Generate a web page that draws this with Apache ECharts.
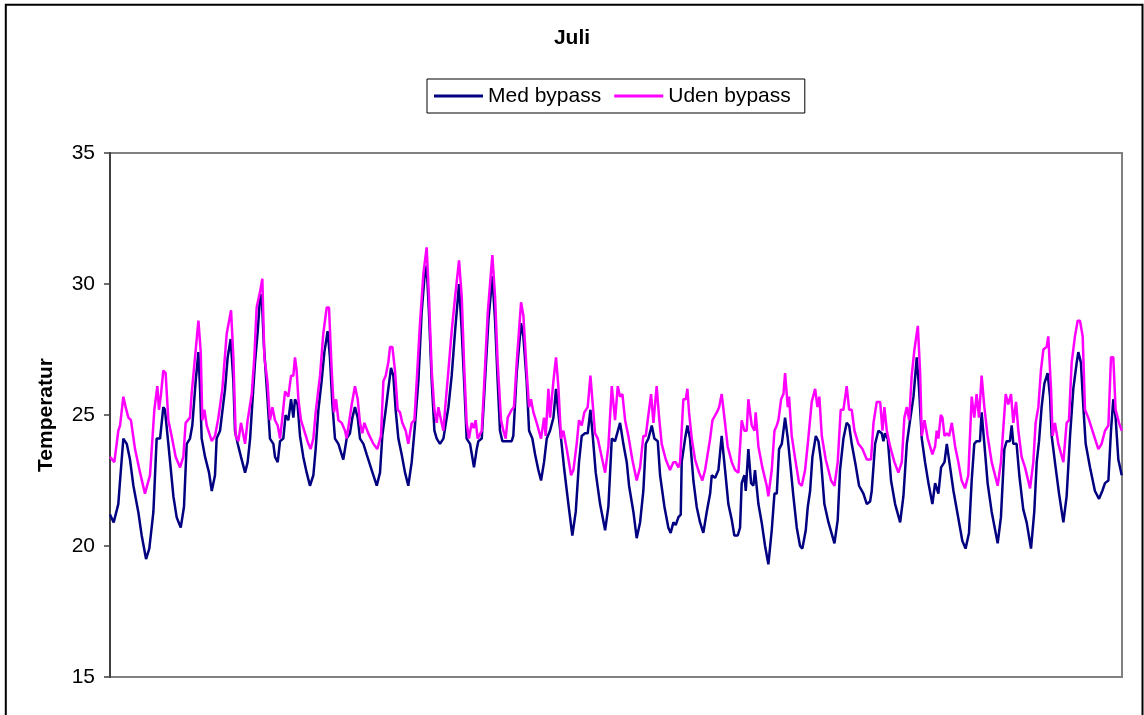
<!DOCTYPE html>
<html>
<head>
<meta charset="utf-8">
<script src="https://cdn.jsdelivr.net/npm/echarts@6/dist/echarts.min.js"></script>
<style>
html,body{margin:0;padding:0;background:#fff;}
#chart{width:1144px;height:715px;}
</style>
</head>
<body>
<div id="chart"></div>
<script>
// Hour of July (0..744) and temperature
var medHours = [0,2.7,6.1,7.4,9.8,12.3,14.7,17.2,20.8,23.3,26.5,28.9,31.9,34.3,36.8,39.2,40.4,42.9,46.6,49.0,52.0,54.4,56.4,58.8,60.5,63.0,65.0,66.2,67.4,69.9,72.8,74.8,77.2,78.4,80.9,84.6,86.5,88.7,90.7,91.9,93.9,96.3,99.3,101.2,103.0,104.2,106.6,108.6,110.3,111.5,113.2,115.7,117.6,120.1,
121.3,123.3,125.0,127.4,129.1,131.1,133.1,134.8,136.0,137.9,139.7,142.1,144.6,147.0,149.5,151.2,153.2,155.6,157.6,160.0,161.7,163.5,165.4,167.9,171.5,174.0,176.4,178.2,180.1,182.1,183.8,186.3,188.7,192.4,196.1,198.5,200.2,202.7,204.6,206.6,208.3,210.0,212.0,214.4,216.9,219.3,221.8,224.2,226.7,229.1,231.1,232.8,234.5,236.5,238.5,240.2,242.6,245.1,
248.8,251.2,253.7,256.6,258.6,260.5,262.2,264.7,267.6,269.6,270.8,273.3,275.7,278.2,281.1,283.1,285.0,286.7,288.5,291.6,295.3,296.5,299.0,302.2,303.9,306.3,308.1,310.5,312.5,314.9,316.9,319.1,321.1,323.5,326.0,327.9,329.6,331.6,334.0,337.0,339.9,342.4,344.8,346.8,349.2,351.2,353.2,354.9,357.1,360.3,364.0,366.4,368.9,
371.3,375.0,377.4,379.9,381.6,384.8,387.2,389.7,392.1,393.9,395.8,398.3,400.2,402.7,404.4,407.6,410.5,412.2,414.2,415.9,417.9,419.6,420.3,422.8,424.5,426.4,428.9,431.3,433.8,436.2,438.7,441.2,442.4,444.8,447.3,449.7,452.2,454.6,457.1,459.0,461.5,463.2,464.4,466.4,467.4,469.3,471.3,473.0,474.2,476.7,479.1,481.6,484.0,486.5,488.5,490.2,491.9,493.9,496.3,
498.3,500.0,502.4,504.9,507.3,509.0,511.5,513.0,514.7,516.4,518.9,520.8,522.8,525.2,528.2,532.6,535.0,536.7,539.2,541.6,543.4,545.3,547.8,550.7,553.9,556.4,558.8,560.0,562.5,564.9,567.4,568.6,569.8,571.8,574.2,577.2,580.9,583.3,585.8,588.2,590.7,593.1,594.8,596.8,599.2,601.7,604.6,606.6,607.8,609.0,611.0,613.5,615.2,617.1,620.1,622.5,
626.6,629.0,631.5,633.5,635.4,637.1,639.6,640.8,642.8,645.2,648.2,652.6,655.0,657.5,659.2,661.6,662.9,664.1,666.5,668.5,671.4,673.9,677.1,679.5,681.3,683.0,684.9,686.9,689.3,691.1,692.3,694.7,697.7,700.9,703.3,705.8,708.2,710.7,711.9,713.8,715.6,717.3,720.5,724.1,727.1,729.5,731.5,734.0,735.9,737.6,739.3,741.3,743.8];
var medTemp = [21.2,20.9,21.6,22.5,24.1,23.9,23.3,22.3,21.3,20.4,19.5,19.9,21.3,24.1,24.1,25.3,25.2,23.9,21.9,21.1,20.7,21.5,23.9,24.1,24.6,26.3,27.4,26.0,24.1,23.4,22.8,22.1,22.7,24.1,24.4,26.0,27.2,27.9,26.3,24.4,23.9,23.4,22.8,23.2,24.1,25.1,27.0,28.2,29.5,29.6,27.6,25.7,24.1,23.9,
23.4,23.2,24.0,24.1,25.0,24.8,25.6,24.9,25.6,25.4,24.2,23.4,22.8,22.3,22.7,23.7,25.2,26.3,27.4,28.2,27.2,25.4,24.1,23.9,23.3,24.1,24.3,24.9,25.3,24.9,24.1,23.9,23.5,22.9,22.3,22.8,24.2,25.2,26.0,26.8,26.5,25.2,24.1,23.5,22.8,22.3,23.2,24.6,26.3,28.9,30.2,30.7,28.9,26.3,24.4,24.1,23.9,24.1,
25.3,26.5,28.2,30.0,28.2,26.1,24.1,23.9,23.0,23.7,24.0,24.1,26.3,28.6,30.3,28.6,26.3,24.4,24.0,24.0,24.0,24.2,26.6,28.5,28.0,26.3,24.4,24.1,23.5,22.9,22.5,23.2,24.1,24.4,24.9,26.0,25.1,24.1,22.9,21.6,20.4,21.3,23.2,24.2,24.3,24.3,25.2,24.2,22.8,21.6,20.6,21.5,24.1,
24.0,24.7,23.9,23.2,22.3,21.3,20.3,20.9,22.1,23.9,24.1,24.6,24.1,24.0,22.7,21.5,20.7,20.5,20.9,20.8,21.1,21.2,23.2,24.1,24.6,24.1,22.5,21.5,20.9,20.5,21.3,22.0,22.7,22.6,22.9,24.2,22.9,21.6,21.0,20.4,20.4,20.7,22.4,22.7,22.1,23.7,22.4,22.3,22.9,21.6,20.9,20.0,19.3,20.6,22.0,22.0,23.7,23.9,24.9,
24.1,23.2,21.9,20.7,20.0,19.9,20.6,21.5,22.1,23.4,24.2,24.0,23.2,21.6,20.9,20.1,21.0,22.9,24.1,24.7,24.6,23.9,23.2,22.3,22.0,21.6,21.7,22.1,23.9,24.4,24.3,24.0,24.3,24.1,22.5,21.6,20.9,21.9,23.9,24.8,25.7,27.2,26.0,24.1,23.2,22.4,21.6,22.4,22.4,22.0,23.0,23.2,23.9,23.2,22.1,21.4,
20.2,19.9,20.5,22.5,23.9,24.0,24.0,25.1,23.9,22.4,21.3,20.1,21.1,23.7,24.0,24.0,24.6,23.9,23.9,22.7,21.4,20.9,19.9,21.3,23.2,24.0,25.3,26.2,26.6,25.7,24.2,23.2,22.0,20.9,21.9,24.2,26.0,27.0,27.4,27.0,25.3,23.9,23.0,22.1,21.8,22.1,22.4,22.5,24.4,25.6,24.9,23.3,22.7];

var udenHours = [0,3.2,6.1,7.4,9.8,11.5,13.5,15.4,18.4,22.1,25.7,27.0,29.4,32.6,34.8,36.0,37.5,39.2,40.9,42.9,45.3,48.3,51.5,53.9,55.6,58.8,60.0,62.5,65.0,66.7,67.9,69.4,71.1,74.8,77.2,79.7,82.6,85.8,89.0,90.7,92.4,94.4,96.3,99.3,101.2,104.2,106.1,107.8,110.3,112.0,113.5,115.7,117.6,119.4,
121.3,123.3,125.0,126.7,128.7,131.1,133.1,134.8,136.0,137.2,138.5,140.4,143.4,145.8,147.5,149.5,151.2,154.4,156.8,159.3,161.0,163.0,164.7,166.2,167.9,170.3,172.8,174.0,175.7,177.7,180.1,182.1,183.8,185.5,187.0,189.9,193.6,196.5,199.2,201.0,202.7,204.6,205.9,207.6,209.5,211.5,213.2,214.9,217.4,219.3,221.8,223.8,225.5,227.9,230.4,232.8,234.5,236.5,238.5,240.2,241.4,243.4,245.1,
246.3,248.8,251.2,253.7,256.6,258.6,260.5,262.2,263.9,265.9,267.4,268.8,270.3,273.3,275.2,277.7,281.1,283.1,285.0,287.5,289.2,290.9,292.4,295.3,297.0,299.0,302.2,303.9,306.3,308.1,309.5,311.3,313.7,316.9,319.1,320.3,322.3,323.5,326.0,327.9,329.6,331.6,333.3,335.8,339.0,340.7,343.1,344.8,346.8,348.7,351.2,353.2,354.9,356.6,358.6,361.5,364.0,366.4,368.9,
371.3,373.3,375.0,376.7,378.7,381.1,384.0,387.2,389.7,392.1,393.9,395.3,397.8,399.5,401.9,403.7,405.6,408.6,411.7,414.2,415.9,417.9,419.1,421.5,423.3,424.5,425.7,427.7,430.1,433.1,435.5,437.5,441.2,442.9,446.1,447.8,449.7,451.7,454.1,457.1,459.5,462.0,464.4,466.4,468.1,469.3,471.8,473.8,474.7,476.7,479.6,482.8,484.0,486.5,488.5,490.2,491.4,493.4,495.1,496.3,
498.3,499.2,501.2,504.1,506.6,508.6,511.0,513.0,515.9,518.4,520.1,521.5,523.3,526.2,530.1,532.6,535.0,537.2,539.2,541.6,543.4,545.3,547.3,550.2,553.2,556.4,559.5,561.3,563.7,566.2,567.9,569.3,571.1,573.5,576.7,579.6,582.1,584.0,585.8,587.5,589.4,591.4,593.9,595.6,596.8,598.8,601.2,604.6,606.6,607.8,609.0,610.8,612.0,613.5,615.2,616.9,618.9,621.3,
623.7,626.1,628.6,631.0,633.5,635.4,637.1,638.9,640.8,642.8,645.2,648.2,652.6,655.0,658.5,660.4,662.4,664.1,666.1,667.8,670.2,672.7,676.4,678.8,680.5,682.5,684.4,686.2,688.6,689.8,691.8,693.0,694.7,697.2,700.9,703.3,705.0,707.0,709.4,711.4,713.1,715.1,716.8,719.2,722.9,726.6,729.0,731.5,734.0,735.9,737.6,739.3,741.8,743.8];
var udenTemp = [23.4,23.2,24.4,24.6,25.7,25.3,24.9,24.8,23.7,22.8,22.0,22.0,22.7,25.2,26.1,25.2,25.8,26.7,26.6,24.8,24.2,23.4,23.0,23.4,24.7,24.9,25.8,27.2,28.6,27.4,24.8,25.2,24.6,24.0,24.2,24.9,26.0,28.1,29.0,27.2,24.2,24.0,24.7,23.9,24.8,25.8,27.2,29.1,29.7,30.2,27.2,26.3,24.8,25.3,
24.8,24.6,24.1,24.9,25.9,25.7,26.5,26.5,27.2,26.7,25.6,24.8,24.3,23.9,23.7,24.1,25.1,26.5,28.1,29.1,29.1,26.7,25.1,25.6,24.8,24.7,24.4,24.1,24.7,25.4,26.1,25.6,24.7,24.3,24.7,24.3,23.9,23.7,24.2,26.3,26.5,27.0,27.6,27.6,26.7,25.2,25.1,24.7,24.4,23.9,24.7,24.8,26.3,28.5,30.4,31.4,29.5,26.7,25.2,24.7,25.3,24.8,24.4,
25.2,26.7,28.2,29.5,30.9,29.5,26.7,24.7,24.1,24.7,24.5,24.8,24.1,24.4,26.3,28.9,31.1,29.5,27.0,24.8,24.4,24.1,24.9,25.2,25.3,27.0,29.3,28.8,26.7,25.3,25.6,25.1,24.7,24.1,24.9,24.2,26.0,24.9,26.3,27.2,26.1,24.1,24.4,23.7,22.7,22.9,23.9,24.8,24.6,25.1,25.3,26.5,25.4,24.3,24.1,23.4,22.8,23.8,26.1,
24.8,26.1,25.7,25.8,24.8,24.2,23.3,22.5,23.0,24.2,24.2,24.8,25.8,24.7,26.1,24.9,23.9,23.3,22.9,23.2,23.2,23.0,23.2,25.6,25.6,26.0,25.1,24.1,23.3,22.8,22.5,22.9,24.1,24.8,25.1,25.3,25.8,24.9,23.8,23.2,22.9,22.8,24.8,24.4,24.4,25.6,24.6,24.4,25.1,23.8,23.0,22.3,21.9,22.9,24.4,24.6,24.8,25.6,25.8,26.6,
25.3,25.7,24.2,23.2,22.4,22.3,22.9,23.9,25.5,26.0,25.3,25.7,24.2,23.3,22.5,22.3,23.2,25.2,25.2,26.1,25.2,25.2,24.4,23.9,23.7,23.3,23.3,24.7,25.5,25.5,24.4,25.3,24.4,23.8,23.2,22.8,23.2,24.9,25.3,24.8,26.5,27.5,28.4,26.6,24.2,24.8,24.1,23.5,23.8,24.4,24.1,25.0,24.9,24.2,24.3,24.2,24.7,23.8,
23.2,22.5,22.2,22.7,25.7,24.9,25.8,24.9,26.5,25.3,24.2,23.2,22.3,23.2,25.8,25.4,25.8,24.7,25.5,24.4,23.4,23.0,22.2,23.2,24.7,25.3,26.7,27.5,27.6,28.0,26.0,24.2,24.7,23.9,23.2,24.7,24.8,27.0,28.0,28.6,28.6,28.0,25.2,24.9,24.3,23.7,23.9,24.4,24.6,27.2,27.2,25.2,24.7,24.4];

var seriesNames = ['Med bypass', 'Uden bypass'];
var yTicks = {min: 15, max: 35, step: 5};
var chartTitle = 'Juli';
var yAxisTitle = 'Temperatur';

function pairs(xs, ys) { return xs.map(function (x, i) { return [x, ys[i]]; }); }

var FONT = '"Liberation Sans", Arial, sans-serif';
var chart = echarts.init(document.getElementById('chart'), null, {renderer: 'canvas'});
chart.setOption({
  animation: false,
  backgroundColor: '#fff',
  title: {
    text: chartTitle, left: 'center', top: 28, padding: 0,
    textStyle: {fontFamily: FONT, fontSize: 21, fontWeight: 'bold', color: '#000'}
  },
  legend: {
    left: 427, top: 79,
    padding: [6, 14, 6, 7],
    borderColor: '#000', borderWidth: 1,
    itemWidth: 49, itemHeight: 3, itemGap: 13,
    icon: 'rect',
    textStyle: {fontFamily: FONT, fontSize: 21, color: '#000', lineHeight: 22},
    data: seriesNames
  },
  grid: {
    left: 110, right: 22, top: 153, bottom: 38,
    show: true, borderColor: '#808080', borderWidth: 2, backgroundColor: '#fff'
  },
  xAxis: {
    type: 'value', min: 0, max: 744,
    axisLine: {show: false}, axisTick: {show: false}, axisLabel: {show: false}, splitLine: {show: false}
  },
  yAxis: {
    type: 'value', min: yTicks.min, max: yTicks.max, interval: yTicks.step,
    name: yAxisTitle, nameLocation: 'middle', nameGap: 53, nameRotate: 90,
    nameTextStyle: {fontFamily: FONT, fontSize: 21, fontWeight: 'bold', color: '#000'},
    axisLine: {show: true, lineStyle: {color: '#404040', width: 2}},
    axisTick: {show: true, inside: false, length: 6, lineStyle: {color: '#404040', width: 1.5}},
    axisLabel: {fontFamily: FONT, fontSize: 21, color: '#000', margin: 15},
    splitLine: {show: false}
  },
  series: [
    {
      name: seriesNames[0], type: 'line', data: pairs(medHours, medTemp),
      showSymbol: false, symbol: 'none', smooth: false,
      lineStyle: {color: '#000080', width: 2.5}, itemStyle: {color: '#000080'}
    },
    {
      name: seriesNames[1], type: 'line', data: pairs(udenHours, udenTemp),
      showSymbol: false, symbol: 'none', smooth: false,
      lineStyle: {color: '#FF00FF', width: 2.5}, itemStyle: {color: '#FF00FF'}
    }
  ],
  graphic: [{
    type: 'rect', silent: true, z: 100,
    shape: {x: 5.8, y: 4.7, width: 1136.7, height: 740},
    style: {fill: 'none', stroke: '#000', lineWidth: 2}
  }]
});
</script>
</body>
</html>
